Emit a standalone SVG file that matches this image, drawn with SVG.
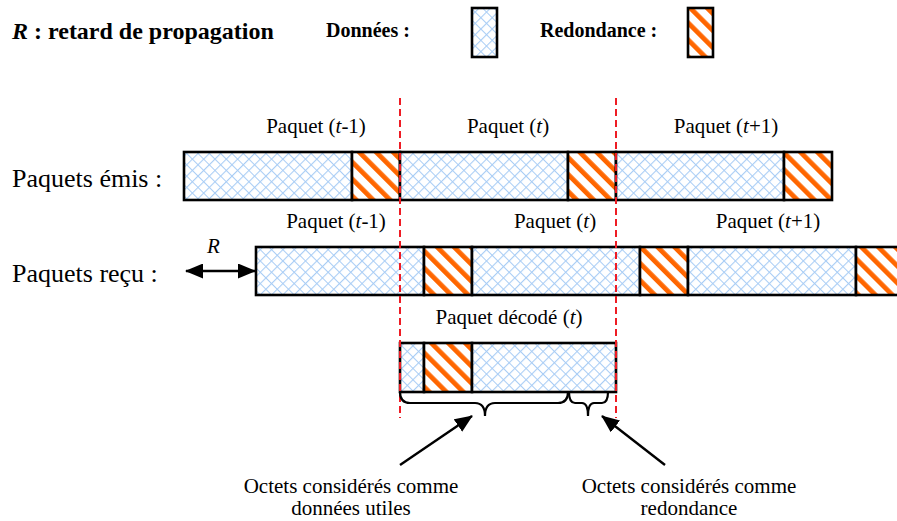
<svg xmlns="http://www.w3.org/2000/svg" width="897" height="521" viewBox="0 0 897 521">
  <defs>
    <!-- light blue cross-hatch: data bytes -->
    <pattern id="data" width="8" height="8" patternUnits="userSpaceOnUse" patternTransform="rotate(45)">
      <rect width="8" height="8" fill="#ffffff"/>
      <path d="M0 0.5H8M0.5 0V8" stroke="#a9cdf5" stroke-width="1.2"/>
    </pattern>
    <!-- orange diagonal stripes: redundancy bytes -->
    <pattern id="redund" width="12" height="12" patternUnits="userSpaceOnUse" patternTransform="rotate(-45)">
      <rect width="12" height="12" fill="#ffffff"/>
      <rect x="0" y="0" width="4.8" height="12" fill="#ff6600"/>
    </pattern>
    <marker id="ah" viewBox="0 0 18 15" refX="17" refY="7.5" markerWidth="18" markerHeight="15" orient="auto-start-reverse" markerUnits="userSpaceOnUse">
      <path d="M0 0L18 7.5L0 15z" fill="#000000"/>
    </marker>
  </defs>
  <style>
    .d{fill:url(#data);stroke:#000;stroke-width:2.6}
    .r{fill:url(#redund);stroke:#000;stroke-width:2.6}
    .lbl{font-size:21px;text-anchor:middle}
    .row{font-size:26px}
    .b{font-weight:bold}
    .cut{stroke:#ee1c24;stroke-width:2;stroke-dasharray:7 4;fill:none}
    .brace{stroke:#000;stroke-width:2.2;fill:none}
    .ptr{stroke:#000;stroke-width:2.4;fill:none}
  </style>

  <!-- legend -->
  <g id="legend">
    <text class="b" font-family="Liberation Serif, Times New Roman, serif" x="12" y="39" font-size="24"><tspan font-style="italic">R</tspan> : retard de propagation</text>
    <text class="b" font-family="Liberation Serif, Times New Roman, serif" x="326" y="37" font-size="20">Données :</text>
    <rect class="d" x="472" y="8" width="25" height="49"/>
    <text class="b" font-family="Liberation Serif, Times New Roman, serif" x="540" y="37" font-size="20">Redondance :</text>
    <rect class="r" x="688" y="8" width="25" height="49"/>
  </g>

  <!-- sent packets -->
  <g id="sent">
    <text class="row" font-family="Liberation Serif, Times New Roman, serif" x="12" y="187">Paquets émis :</text>
    <text class="lbl" font-family="Liberation Serif, Times New Roman, serif" x="316" y="133">Paquet (<tspan font-style="italic">t</tspan>-1)</text>
    <text class="lbl" font-family="Liberation Serif, Times New Roman, serif" x="508" y="133">Paquet (<tspan font-style="italic">t</tspan>)</text>
    <text class="lbl" font-family="Liberation Serif, Times New Roman, serif" x="726" y="133">Paquet (<tspan font-style="italic">t</tspan>+1)</text>
    <rect class="d" x="184" y="152" width="168" height="48"/>
    <rect class="r" x="352" y="152" width="48" height="48"/>
    <rect class="d" x="400" y="152" width="168" height="48"/>
    <rect class="r" x="568" y="152" width="48" height="48"/>
    <rect class="d" x="616" y="152" width="168" height="48"/>
    <rect class="r" x="784" y="152" width="48" height="48"/>
  </g>

  <!-- received packets -->
  <g id="received">
    <text class="row" font-family="Liberation Serif, Times New Roman, serif" x="12" y="282">Paquets reçu :</text>
    <text class="lbl" font-family="Liberation Serif, Times New Roman, serif" x="336" y="228">Paquet (<tspan font-style="italic">t</tspan>-1)</text>
    <text class="lbl" font-family="Liberation Serif, Times New Roman, serif" x="555" y="228">Paquet (<tspan font-style="italic">t</tspan>)</text>
    <text class="lbl" font-family="Liberation Serif, Times New Roman, serif" x="768" y="228">Paquet (<tspan font-style="italic">t</tspan>+1)</text>
    <rect class="d" x="256" y="247" width="168" height="48"/>
    <rect class="r" x="424" y="247" width="48" height="48"/>
    <rect class="d" x="472" y="247" width="168" height="48"/>
    <rect class="r" x="640" y="247" width="48" height="48"/>
    <rect class="d" x="688" y="247" width="168" height="48"/>
    <rect class="r" x="856" y="247" width="48" height="48"/>
  </g>

  <!-- decoded packet -->
  <g id="decoded">
    <text class="lbl" font-family="Liberation Serif, Times New Roman, serif" x="509" y="324">Paquet décodé (<tspan font-style="italic">t</tspan>)</text>
    <rect class="d" x="400" y="343" width="24" height="49"/>
    <rect class="r" x="424" y="343" width="48" height="49"/>
    <rect class="d" x="472" y="343" width="144" height="49"/>
  </g>

  <!-- captions -->
  <g id="captions">
    <text class="lbl" font-family="Liberation Serif, Times New Roman, serif" x="351" y="493">Octets considérés comme</text>
    <text class="lbl" font-family="Liberation Serif, Times New Roman, serif" x="351" y="515">données utiles</text>
    <text class="lbl" font-family="Liberation Serif, Times New Roman, serif" x="689" y="493">Octets considérés comme</text>
    <text class="lbl" font-family="Liberation Serif, Times New Roman, serif" x="689" y="515">redondance</text>
  </g>

  <!-- connectors -->
  <g id="connectors">
    <line class="cut" x1="400" y1="98" x2="400" y2="418"/>
    <line class="cut" x1="616" y1="98" x2="616" y2="418"/>
    <text font-family="Liberation Serif, Times New Roman, serif" x="207" y="253" font-size="21" font-style="italic">R</text>
    <line x1="186" y1="271" x2="255" y2="271" stroke="#000" stroke-width="2.4" marker-start="url(#ah)" marker-end="url(#ah)"/>
    <path class="brace" d="M400 392Q400 403 410 403H475Q485 403 485 416Q485 403 495 403H558Q568 403 568 392"/>
    <path class="brace" d="M569 392Q569 403 575 403H582Q588 403 588 416Q588 403 594 403H602Q608 403 608 392"/>
    <line class="ptr" x1="400" y1="465" x2="472" y2="416" marker-end="url(#ah)"/>
    <line class="ptr" x1="665" y1="465" x2="602" y2="416" marker-end="url(#ah)"/>
  </g>
</svg>
